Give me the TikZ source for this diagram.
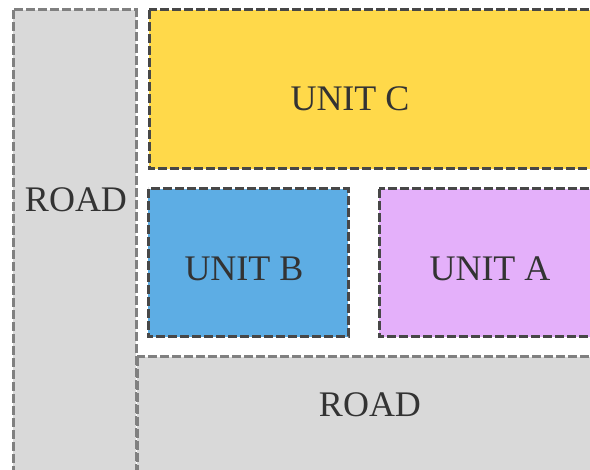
\documentclass[tikz,border=0pt]{standalone}
\usepackage{fontspec}
\setmainfont{Liberation Serif}
\begin{document}
\begin{tikzpicture}[x=1pt,y=-1pt,
  zone/.style={line width=3pt, dash pattern=on 9pt off 3pt},
  roadzone/.style={zone, draw=black!50, fill=black!15},
  unitzone/.style={zone, draw=black!72},
  label/.style={font=\fontsize{36}{40}\selectfont, text=black!80}]
  \useasboundingbox (0,0) rectangle (590,470);
  \clip (0,0) rectangle (590,470);
  % roads
  \draw[roadzone] (13,10) rectangle (136,480);
  \draw[roadzone] (137,357) rectangle (600,480);
  % units
  \draw[unitzone, fill={rgb,255:red,255;green,217;blue,74}] (149,10) rectangle (600,169);
  \draw[unitzone, fill={rgb,255:red,93;green,173;blue,228}] (148,189) rectangle (348,337);
  \draw[unitzone, fill={rgb,255:red,228;green,176;blue,250}] (379,189) rectangle (600,337);
  % labels
  \node[label] (roadv) at (76,200) {ROAD};
  \node[label] (roadh) at (370,405) {ROAD};
  \node[label] (unitc) at (350,99) {UNIT C};
  \node[label] (unitb) at (244,269) {UNIT B};
  \node[label] (unita) at (490,269) {UNIT A};
\end{tikzpicture}
\end{document}
